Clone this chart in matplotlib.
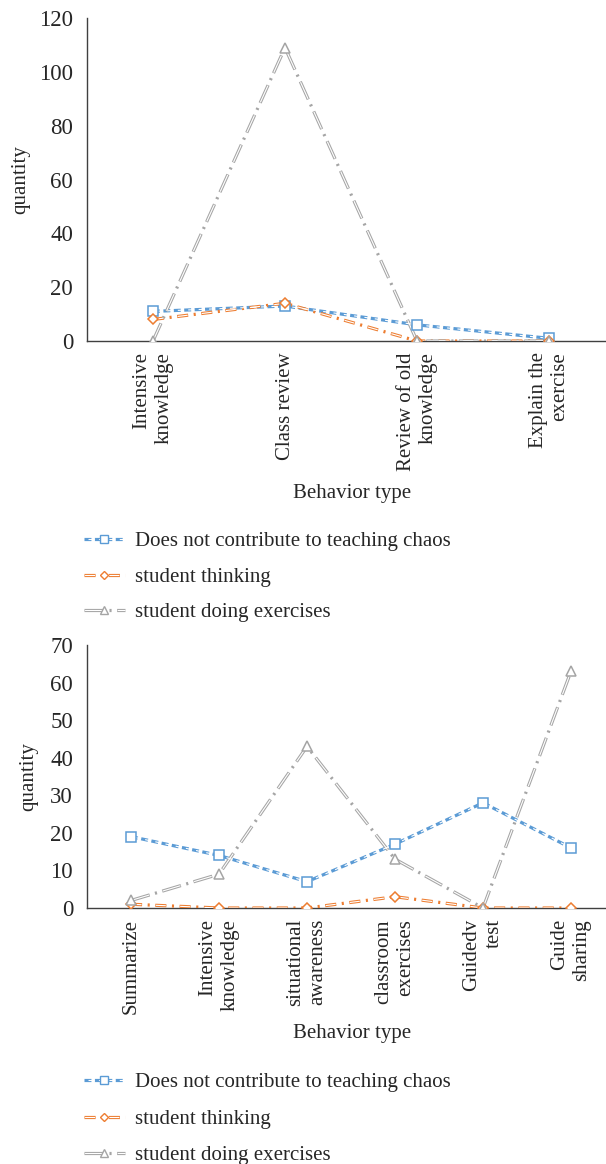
import matplotlib
matplotlib.use("Agg")
import matplotlib.pyplot as plt
from matplotlib.lines import Line2D
from matplotlib.legend_handler import HandlerTuple

plt.rcParams['font.family'] = ['Liberation Serif', 'DejaVu Serif']
plt.rcParams['lines.scale_dashes'] = False

# data
cats1 = ["Intensive\nknowledge", "Class review", "Review of old\nknowledge", "Explain the\nexercise"]
chaos1 = [11, 13, 6, 1]
think1 = [8, 14, 0, 0]
exer1 = [0, 109, 0, 0]

cats2 = ["Summarize", "Intensive\nknowledge", "situational\nawareness", "classroom\nexercises",
         "Guidedv\ntest", "Guide\nsharing"]
chaos2 = [19, 14, 7, 17, 28, 16]
think2 = [1, 0, 0, 3, 0, 0]
exer2 = [2, 9, 43, 13, 0, 63]

names = ["Does not contribute to teaching chaos", "student thinking", "student doing exercises"]
colors = ["#5B9BD5", "#ED7D31", "#A5A5A5"]
markers = ["s", "D", "^"]
msizes = [6.5, 5, 6.5]
# (outer dash pattern, inner white dash pattern)
styles = [
    ((0, (5, 2.5)), (4.6, (4.2, 3.3))),
    ((0, (8, 4, 1.5, 4)), (17.1, (7.2, 10.3))),
    ((0, (14, 4, 1.5, 4)), (23.1, (13.2, 10.3))),
]

text_col = "#262626"
FS = 15
W, H = 606, 1164
fig = plt.figure(figsize=(W / 100, H / 100), dpi=100)


def draw(ax, cats, series, ymax, ystep):
    handles = []
    x = list(range(len(cats)))
    for vals, c, m, ms, (ls_out, ls_in) in zip(series, colors, markers, msizes, styles):
        ax.plot(x, vals, color=c, lw=2.3, linestyle=ls_out, dash_capstyle='butt', zorder=3)
        ax.plot(x, vals, color='white', lw=0.8, linestyle=ls_in, dash_capstyle='butt', zorder=4)
        ax.plot(x, vals, color=c, lw=0, marker=m, ms=ms, mfc='white', mec=c, mew=1.1, zorder=5)
        h_out = Line2D([], [], color=c, lw=2.3, linestyle=ls_out, dash_capstyle='butt')
        h_in = Line2D([], [], color='white', lw=0.8, linestyle=ls_in, dash_capstyle='butt')
        h_m = Line2D([], [], color=c, lw=0, marker=m, ms=ms - 1, mfc='white', mec=c, mew=1.0)
        handles.append((h_out, h_in, h_m))
    ax.set_ylim(0, ymax)
    ax.set_yticks(range(0, ymax + 1, ystep))
    ax.set_xticks(x)
    ax.set_xticklabels(cats, rotation=90, multialignment='right')
    for sp in ['top', 'right']:
        ax.spines[sp].set_visible(False)
    for sp in ['left', 'bottom']:
        ax.spines[sp].set_color('#404040')
        ax.spines[sp].set_linewidth(1.0)
    ax.tick_params(length=0, labelsize=FS, colors=text_col, pad=8)
    ax.tick_params(axis='y', labelsize=16.5, pad=10)
    ax.set_ylabel("quantity", fontsize=FS, color=text_col)
    ax.set_xlabel("Behavior type", fontsize=FS, color=text_col)
    return handles


def add_legend(handles, yc, spacing):
    fig.legend(handles, names, handler_map={tuple: HandlerTuple(ndivide=1)},
               loc='center left', bbox_to_anchor=(84 / W, 1 - yc / H), frameon=False,
               fontsize=FS, labelcolor=text_col, handlelength=1.95, handletextpad=0.5,
               labelspacing=spacing, borderpad=0, borderaxespad=0)


# top chart: 0 at y=341, 120 at y=18, y-axis at x=87, categories at 153 + 132*i
ax1 = fig.add_axes([87 / W, 1 - 341 / H, (W - 87) / W, (341 - 18) / H])
h1 = draw(ax1, cats1, [chaos1, think1, exer1], 120, 20)
ax1.set_xlim(-0.5, (W - 153) / 132)
ax1.yaxis.set_label_coords(-(87 - 30) / (W - 87), 0.5)
ax1.xaxis.set_label_coords((352 - 87) / (W - 87), -(484 - 341) / (341 - 18))
add_legend(h1, 577, 0.76)

# bottom chart: 0 at y=908, 70 at y=645, categories at 131 + 88*i
ax2 = fig.add_axes([87 / W, 1 - 908 / H, (W - 87) / W, (908 - 645) / H])
h2 = draw(ax2, cats2, [chaos2, think2, exer2], 70, 10)
ax2.set_xlim(-0.5, (W - 131) / 88)
ax2.yaxis.set_label_coords(-(87 - 38) / (W - 87), 0.5)
ax2.xaxis.set_label_coords((352 - 87) / (W - 87), -(1024 - 908) / (908 - 645))
add_legend(h2, 1119, 0.82)

fig.savefig("out.png", dpi=100)
